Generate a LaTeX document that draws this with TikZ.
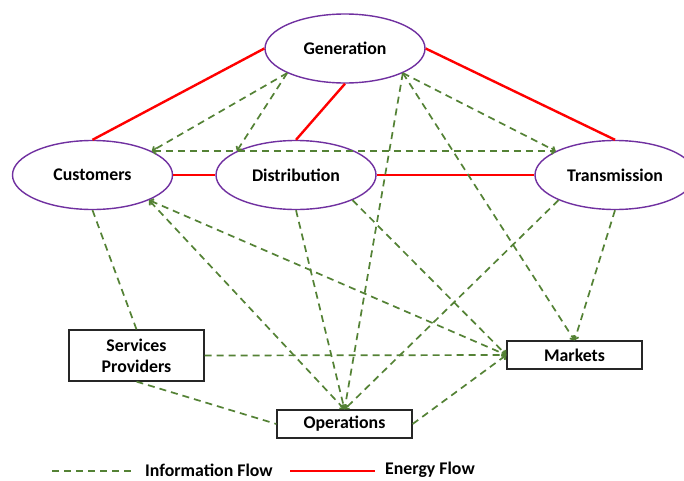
\documentclass[tikz,border=0pt]{standalone}
\usepackage{fontspec}
\setmainfont{Carlito}
\usetikzlibrary{shapes.geometric,arrows.meta}
\definecolor{purp}{RGB}{112,48,160}
\definecolor{infogreen}{RGB}{84,130,53}
\tikzset{
  lbl/.style={font=\fontsize{17.8}{21}\selectfont\bfseries},
  ell/.style={ellipse,draw=purp,line width=1.4pt,fill=white,minimum width=160pt,minimum height=69pt,inner sep=0pt,lbl},
  box/.style={rectangle,draw=black!85,line width=1.2pt,fill=white,minimum width=135pt,inner sep=0pt,lbl,align=center},
  energy/.style={draw=red,line width=2.4pt},
  info/.style={draw=infogreen,line width=1.7pt,dash pattern=on 7pt off 5pt},
  tip/.style={arrows={-{Straight Barb[length=3pt,width=6pt]}}},
  btip/.style={arrows={{Straight Barb[length=3pt,width=6pt]}-{Straight Barb[length=3pt,width=6pt]}}}
}
\begin{document}
\begin{tikzpicture}[x=1pt,y=-1pt]
\useasboundingbox (0,0) rectangle (684,480);
\fill[white] (0,0) rectangle (684,480);
% nodes
\node[ell] (gen) at (345,48.5) {Generation};
\node[ell] (cust) at (92.5,175) {Customers};
\node[ell] (dist) at (296,175) {Distribution};
\node[ell] (trans) at (615,175) {Transmission};
\node[box,minimum height=51pt] (sp) at (136.5,355.5) {Services\\Providers};
\node[box,minimum height=28pt] (mkt) at (574.5,355) {Markets};
\node[box,minimum height=28pt] (ops) at (344.5,424) {Operations};
% energy flows
\draw[energy] (gen.180) -- (cust.north);
\draw[energy] (gen.south) -- (dist.north);
\draw[energy] (gen.east) -- (trans.north);
\draw[energy] (cust.east) -- (dist.west);
\draw[energy] (dist.east) -- (trans.west);
% information flows
\draw[info,tip] (gen.203) -- (cust.22);
\draw[info,tip] (gen.203) -- (dist.158);
\draw[info,btip] (cust.22) -- (trans.158);
\draw[info,tip] (gen.337) -- (trans.158);
\draw[info,tip] (gen.337) -- (ops.north);
\draw[info,tip] (gen.337) -- (mkt.north);
\draw[info,btip] (cust.336) -- (ops.north);
\draw[info,btip] (cust.336) -- (mkt.west);
\draw[info,tip] (dist.south) -- (ops.north);
\draw[info,tip] (dist.336) -- (mkt.west);
\draw[info,tip] (trans.204) -- (ops.north);
\draw[info,tip] (trans.south) -- (mkt.north);
\draw[info] (cust.south) -- (sp.north);
\draw[info,tip] (sp.east) -- (mkt.west);
\draw[info] (sp.south) -- (ops.west);
\draw[info,tip] (ops.east) -- (mkt.west);
% legend
\coordinate (l1a) at (52,471);
\coordinate (l1b) at (135,471);
\coordinate (l2a) at (290,471);
\coordinate (l2b) at (375,471);
\draw[info] (l1a) -- (l1b);
\node[lbl,anchor=west,inner sep=0pt] (linfo) at (145,470) {Information Flow};
\draw[energy] (l2a) -- (l2b);
\node[lbl,anchor=west,inner sep=0pt] (lenergy) at (385,470) {Energy Flow};
\end{tikzpicture}
\end{document}
